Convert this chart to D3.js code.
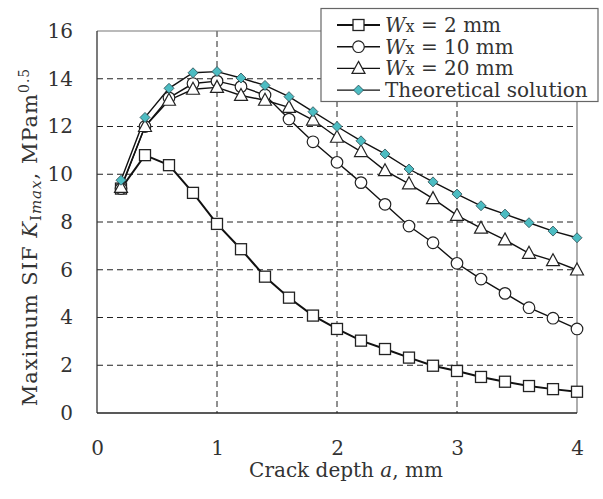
<!DOCTYPE html>
<html><head><meta charset="utf-8">
<script src="https://cdn.jsdelivr.net/npm/d3@7"></script>
<style>body{margin:0;background:#fff}svg{display:block}text{font-family:"DejaVu Serif",serif;fill:#333}</style>
</head><body>
<svg id="c" width="603" height="499"></svg>
<script>
const crackDepth = [0.2,0.4,0.6,0.8,1.0,1.2,1.4,1.6,1.8,2.0,2.2,2.4,2.6,2.8,3.0,3.2,3.4,3.6,3.8,4.0];
const wx2 = [9.4,10.8,10.38,9.22,7.92,6.86,5.71,4.83,4.08,3.52,3.03,2.68,2.32,1.98,1.76,1.51,1.31,1.13,1.0,0.89];
const wx10 = [9.4,12.0,13.2,13.8,13.9,13.67,13.32,12.31,11.36,10.5,9.65,8.74,7.83,7.13,6.27,5.61,5.01,4.41,3.97,3.52];
const wx20 = [9.45,12.0,13.1,13.56,13.64,13.3,13.1,12.8,12.27,11.55,10.95,10.15,9.6,8.98,8.28,7.74,7.25,6.69,6.38,5.99];
const theory = [9.75,12.38,13.6,14.25,14.3,14.03,13.72,13.25,12.62,12.0,11.4,10.85,10.22,9.68,9.17,8.68,8.33,7.97,7.62,7.34];
const seriesNames = ["Wx = 2 mm","Wx = 10 mm","Wx = 20 mm","Theoretical solution"];
const xTicks = [0,1,2,3,4];
const yTicks = [0,2,4,6,8,10,12,14,16];

const FS = 20;
const svg = d3.select("#c");
const L=97,R=577,T=31,B=413;
const x = d3.scaleLinear().domain([0,4]).range([L,R]);
const y = d3.scaleLinear().domain([0,16]).range([B,T]);

// grid
const g = svg.append("g");
g.selectAll(".hg").data(yTicks.filter(v=>v>0&&v<16)).join("line")
  .attr("x1",L).attr("x2",R).attr("y1",d=>y(d)).attr("y2",d=>y(d))
  .attr("stroke","#222").attr("stroke-width",1).attr("stroke-dasharray","6,4");
g.selectAll(".vg").data(xTicks.filter(v=>v>0&&v<4)).join("line")
  .attr("y1",T).attr("y2",B).attr("x1",d=>x(d)).attr("x2",d=>x(d))
  .attr("stroke","#222").attr("stroke-width",1).attr("stroke-dasharray","6,4");
// borders
svg.append("line").attr("x1",L).attr("x2",R).attr("y1",T).attr("y2",T).attr("stroke","#777").attr("stroke-width",1.2);
svg.append("line").attr("x1",R).attr("x2",R).attr("y1",T).attr("y2",B).attr("stroke","#777").attr("stroke-width",1.2);
svg.append("line").attr("x1",L).attr("x2",L).attr("y1",T).attr("y2",B).attr("stroke","#333").attr("stroke-width",1.3);
svg.append("line").attr("x1",L).attr("x2",R).attr("y1",B).attr("y2",B).attr("stroke","#222").attr("stroke-width",1.5);

// axes labels via d3 axes (no lines)
const xa = svg.append("g").attr("transform",`translate(0,${B})`)
  .call(d3.axisBottom(x).tickValues(xTicks).tickSize(0).tickPadding(28).tickFormat(d3.format("d")));
const ya = svg.append("g").attr("transform",`translate(${L},0)`)
  .call(d3.axisLeft(y).tickValues(yTicks).tickSize(0).tickPadding(24).tickFormat(d3.format("d")));
[xa,ya].forEach(a=>{a.attr("font-family",null).attr("font-size",null);a.select(".domain").remove();a.selectAll("text").attr("font-size",FS).attr("fill","#333");});

// series
const line = d3.line().x((d,i)=>x(crackDepth[i])).y(d=>y(d));
const data = [wx2,wx10,wx20,theory];
const lw = [2,1.4,1.4,1.4];
data.forEach((s,k)=>{
  svg.append("path").attr("d",line(s)).attr("fill","none").attr("stroke","#111").attr("stroke-width",lw[k]);
});
function marker(sel,k,cx,cy){
  if(k===0) sel.append("rect").attr("x",cx-5.5).attr("y",cy-5.5).attr("width",11).attr("height",11).attr("fill","#fff").attr("stroke","#222").attr("stroke-width",1.3);
  else if(k===1) sel.append("circle").attr("cx",cx).attr("cy",cy).attr("r",5.8).attr("fill","#fff").attr("stroke","#222").attr("stroke-width",1.2);
  else if(k===2) sel.append("path").attr("d",`M${cx},${cy-7}L${cx+6.5},${cy+5}L${cx-6.5},${cy+5}Z`).attr("fill","#fff").attr("stroke","#222").attr("stroke-width",1.2);
  else sel.append("path").attr("d",`M${cx},${cy-5}L${cx+5},${cy}L${cx},${cy+5}L${cx-5},${cy}Z`).attr("fill","#4cbcc2").attr("stroke","#2a4a50").attr("stroke-width",0.8);
}
data.forEach((s,k)=>{
  const mg = svg.append("g");
  s.forEach((v,i)=>marker(mg,k,x(crackDepth[i]),y(v)));
});

// legend
const lg = svg.append("g");
lg.append("rect").attr("x",321).attr("y",8.5).attr("width",277).attr("height",93).attr("fill","#fff").attr("stroke","#666").attr("stroke-width",1.2);
seriesNames.forEach((n,k)=>{
  const cy = 25 + k*21.7;
  lg.append("line").attr("x1",337).attr("x2",380).attr("y1",cy).attr("y2",cy).attr("stroke","#111").attr("stroke-width",lw[k]);
  marker(lg,k,358.5,cy);
  const t = lg.append("text").attr("x",385).attr("y",cy+7).attr("font-size",FS);
  if(k<3){
    t.append("tspan").attr("font-style","italic").text("W");
    t.append("tspan").attr("font-size",16).text("x");
    t.append("tspan").text(n.slice(2));
  } else t.text(n);
});

// axis titles
const xt = svg.append("text").attr("x",346).attr("y",477).attr("text-anchor","middle").attr("font-size",FS);
xt.append("tspan").text("Crack depth ");
xt.append("tspan").attr("font-style","italic").text("a");
xt.append("tspan").text(", mm");
const yt = svg.append("text").attr("transform","translate(37,237) rotate(-90)").attr("text-anchor","middle").attr("font-size",21).attr("letter-spacing",1);
yt.append("tspan").text("Maximum SIF ");
yt.append("tspan").attr("font-style","italic").text("K");
yt.append("tspan").attr("font-size",15).attr("dy",4).text("I");
yt.append("tspan").attr("font-size",15).attr("font-style","italic").text("max");
yt.append("tspan").attr("dy",-4).text(", MPam");
yt.append("tspan").attr("font-size",14).attr("dy",-8).text("0.5");
</script>
</body></html>
